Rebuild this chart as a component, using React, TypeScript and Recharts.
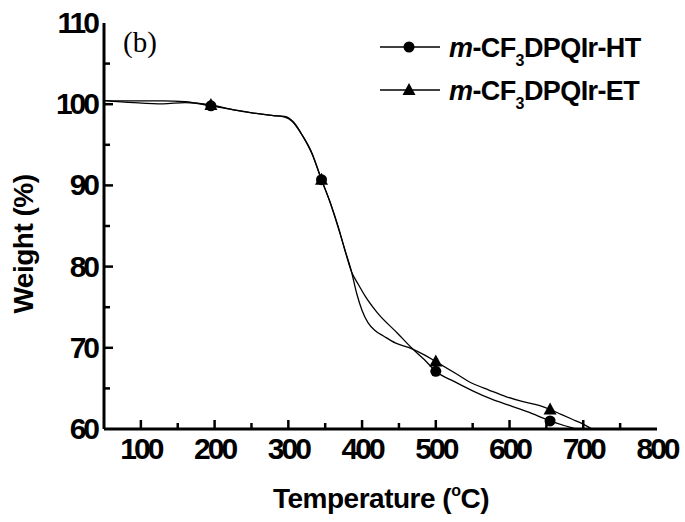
import React from "react";
import { ComposedChart, Line, Scatter, XAxis, YAxis } from "recharts";

// TGA curves: [temperature °C, weight %]
const htCurve: [number, number][] = [
  [50, 100.45], [90, 100.4], [130, 100.4], [160, 100.3], [195, 99.8], [226, 99.3],
  [253, 98.9], [280, 98.6], [295, 98.4], [305, 97.9], [318, 96.3], [331, 94.2],
  [345, 90.7], [358, 87.6], [368, 84.8], [378, 81.6], [386, 79.3], [395, 77.8],
  [404, 76.4], [420, 74.4], [448, 71.8], [467, 70.0], [485, 68.5], [500, 67.1],
  [526, 65.8], [550, 64.7], [575, 63.7], [600, 62.9], [625, 62.1], [655, 61.0],
  [675, 60.4], [690, 60.0], [705, 59.5],
];

const etCurve: [number, number][] = [
  [50, 100.45], [90, 100.2], [130, 100.05], [160, 100.2], [195, 99.9], [226, 99.3],
  [253, 98.9], [280, 98.6], [295, 98.5], [307, 97.8], [320, 96.0], [332, 93.9],
  [345, 90.7], [357, 87.8], [367, 85.0], [377, 82.0], [385, 79.6], [393, 76.6],
  [400, 74.6], [408, 73.1], [418, 72.1], [430, 71.4], [445, 70.6], [467, 69.9],
  [485, 69.1], [500, 68.3], [526, 66.9], [550, 65.6], [572, 64.8], [595, 64.0],
  [617, 63.4], [640, 62.9], [655, 62.4], [670, 61.8], [685, 61.2], [700, 60.6],
  [712, 60.0], [720, 59.7],
];

const htMarks: [number, number][] = [[195, 99.8], [345, 90.7], [500, 67.1], [655, 61.0]];
const etMarks: [number, number][] = [[195, 99.9], [345, 90.7], [500, 68.3], [655, 62.4]];

const xTicks = [50, 100, 150, 200, 250, 300, 350, 400, 450, 500, 550, 600, 650, 700, 750, 800];
const yTicks = [60, 65, 70, 75, 80, 85, 90, 95, 100, 105, 110];

const toRows = (pts: [number, number][]) => pts.map(([t, w]) => ({ t, w }));

const FONT = "'Liberation Sans', Arial, sans-serif";

const BottomTick = ({ x, y, payload }: any) => {
  const v = payload.value;
  const major = v % 100 === 0;
  return (
    <g>
      {v !== 50 && v !== 800 && (
        <line x1={x} x2={x} y1={y} y2={y - (major ? 9 : 6)} stroke="#000" strokeWidth={2.5} />
      )}
      {major && (
        <text x={x} y={y + 30} textAnchor="middle" fontFamily={FONT} fontWeight="bold"
          fontSize={30} letterSpacing={-3} fill="#000">
          {v}
        </text>
      )}
    </g>
  );
};

const LeftTick = ({ x, y, payload }: any) => {
  const v = payload.value;
  const major = v % 10 === 0;
  return (
    <g>
      {v !== 60 && v !== 110 && (
        <line x1={x} x2={x + (major ? 9 : 6)} y1={y} y2={y} stroke="#000" strokeWidth={2.5} />
      )}
      {major && (
        <text x={x - 7} y={y + 10} textAnchor="end" fontFamily={FONT} fontWeight="bold"
          fontSize={30} letterSpacing={-3} fill="#000">
          {v}
        </text>
      )}
    </g>
  );
};

const TopTick = ({ x, y, payload }: any) => {
  const v = payload.value;
  if (v === 50 || v === 800) return <g />;
  return <line x1={x} x2={x} y1={y} y2={y + 4} stroke="#000" strokeWidth={2} />;
};

const RightTick = ({ x, y, payload }: any) => {
  const v = payload.value;
  if (v === 60 || v === 110) return <g />;
  return <line x1={x} x2={x - 4} y1={y} y2={y} stroke="#000" strokeWidth={2} />;
};

const Dot = ({ cx, cy }: any) => <circle cx={cx} cy={cy} r={5.5} fill="#000" />;
const Tri = ({ cx, cy }: any) => (
  <path d={`M${cx},${cy - 7} L${cx + 6.5},${cy + 5} L${cx - 6.5},${cy + 5} Z`} fill="#000" />
);

const LegendLabel = ({ y, suffix }: { y: number; suffix: string }) => (
  <text x={449} y={y} fontFamily={FONT} fontWeight="bold" fontSize={27} letterSpacing={-0.6} fill="#000">
    <tspan fontStyle="italic">m</tspan>
    <tspan>-CF</tspan>
    <tspan fontSize={16} dy={9}>3</tspan>
    <tspan dy={-9}>DPQIr-{suffix}</tspan>
  </text>
);

export default function App() {
  return (
    <div style={{ position: "absolute", left: 0, top: 0, width: 685, height: 522, background: "#fff" }}>
      <ComposedChart width={685} height={522} margin={{ top: 23, right: 28, bottom: 53, left: 44 }}>
        <XAxis xAxisId="b" type="number" dataKey="t" domain={[50, 800]} ticks={xTicks} interval={0}
          allowDataOverflow height={40} tickSize={0} tickMargin={0} tickLine={false}
          axisLine={{ stroke: "#000", strokeWidth: 3 }} tick={<BottomTick />} />
        <XAxis xAxisId="top" orientation="top" type="number" dataKey="t" domain={[50, 800]} ticks={xTicks}
          interval={0} allowDataOverflow height={0} tickSize={0} tickMargin={0} tickLine={false}
          axisLine={{ stroke: "#000", strokeWidth: 3 }} tick={<TopTick />} />
        <YAxis yAxisId="l" type="number" dataKey="w" domain={[60, 110]} ticks={yTicks} interval={0}
          allowDataOverflow width={60} tickSize={0} tickMargin={0} tickLine={false}
          axisLine={{ stroke: "#000", strokeWidth: 3 }} tick={<LeftTick />} />
        <YAxis yAxisId="r" orientation="right" type="number" dataKey="w" domain={[60, 110]} ticks={yTicks}
          interval={0} allowDataOverflow width={0} tickSize={0} tickMargin={0} tickLine={false}
          axisLine={{ stroke: "#000", strokeWidth: 3 }} tick={<RightTick />} />

        <Line xAxisId="b" yAxisId="l" data={toRows(htCurve)} dataKey="w" type="monotone" stroke="#000"
          strokeWidth={1.3} dot={false} isAnimationActive={false} />
        <Line xAxisId="b" yAxisId="l" data={toRows(etCurve)} dataKey="w" type="monotone" stroke="#000"
          strokeWidth={1.3} dot={false} isAnimationActive={false} />
        <Scatter xAxisId="b" yAxisId="l" data={toRows(htMarks)} dataKey="w" shape={<Dot />}
          isAnimationActive={false} />
        <Scatter xAxisId="b" yAxisId="l" data={toRows(etMarks)} dataKey="w" shape={<Tri />}
          isAnimationActive={false} />
      </ComposedChart>

      <svg width={685} height={522} style={{ position: "absolute", left: 0, top: 0, pointerEvents: "none" }}>
        <text x={123} y={52} fontFamily="'Liberation Serif', 'Times New Roman', serif" fontSize={29} fill="#000">
          (b)
        </text>

        <line x1={380} x2={440} y1={47} y2={47} stroke="#000" strokeWidth={1.3} />
        <circle cx={409} cy={47} r={5.5} fill="#000" />
        <LegendLabel y={57} suffix="HT" />

        <line x1={380} x2={440} y1={90} y2={90} stroke="#000" strokeWidth={1.3} />
        <path d="M409,83 L415.5,95 L402.5,95 Z" fill="#000" />
        <LegendLabel y={100} suffix="ET" />

        <text x={381} y={508} textAnchor="middle" fontFamily={FONT} fontWeight="bold" fontSize={28}
          letterSpacing={-0.5} fill="#000">
          Temperature (<tspan fontSize={16} dy={-12}>o</tspan>
          <tspan dy={12}>C)</tspan>
        </text>
        <text x={0} y={0} transform="translate(33,244) rotate(-90)" textAnchor="middle" fontFamily={FONT}
          fontWeight="bold" fontSize={28} letterSpacing={-0.5} fill="#000">
          Weight (%)
        </text>
      </svg>
    </div>
  );
}
